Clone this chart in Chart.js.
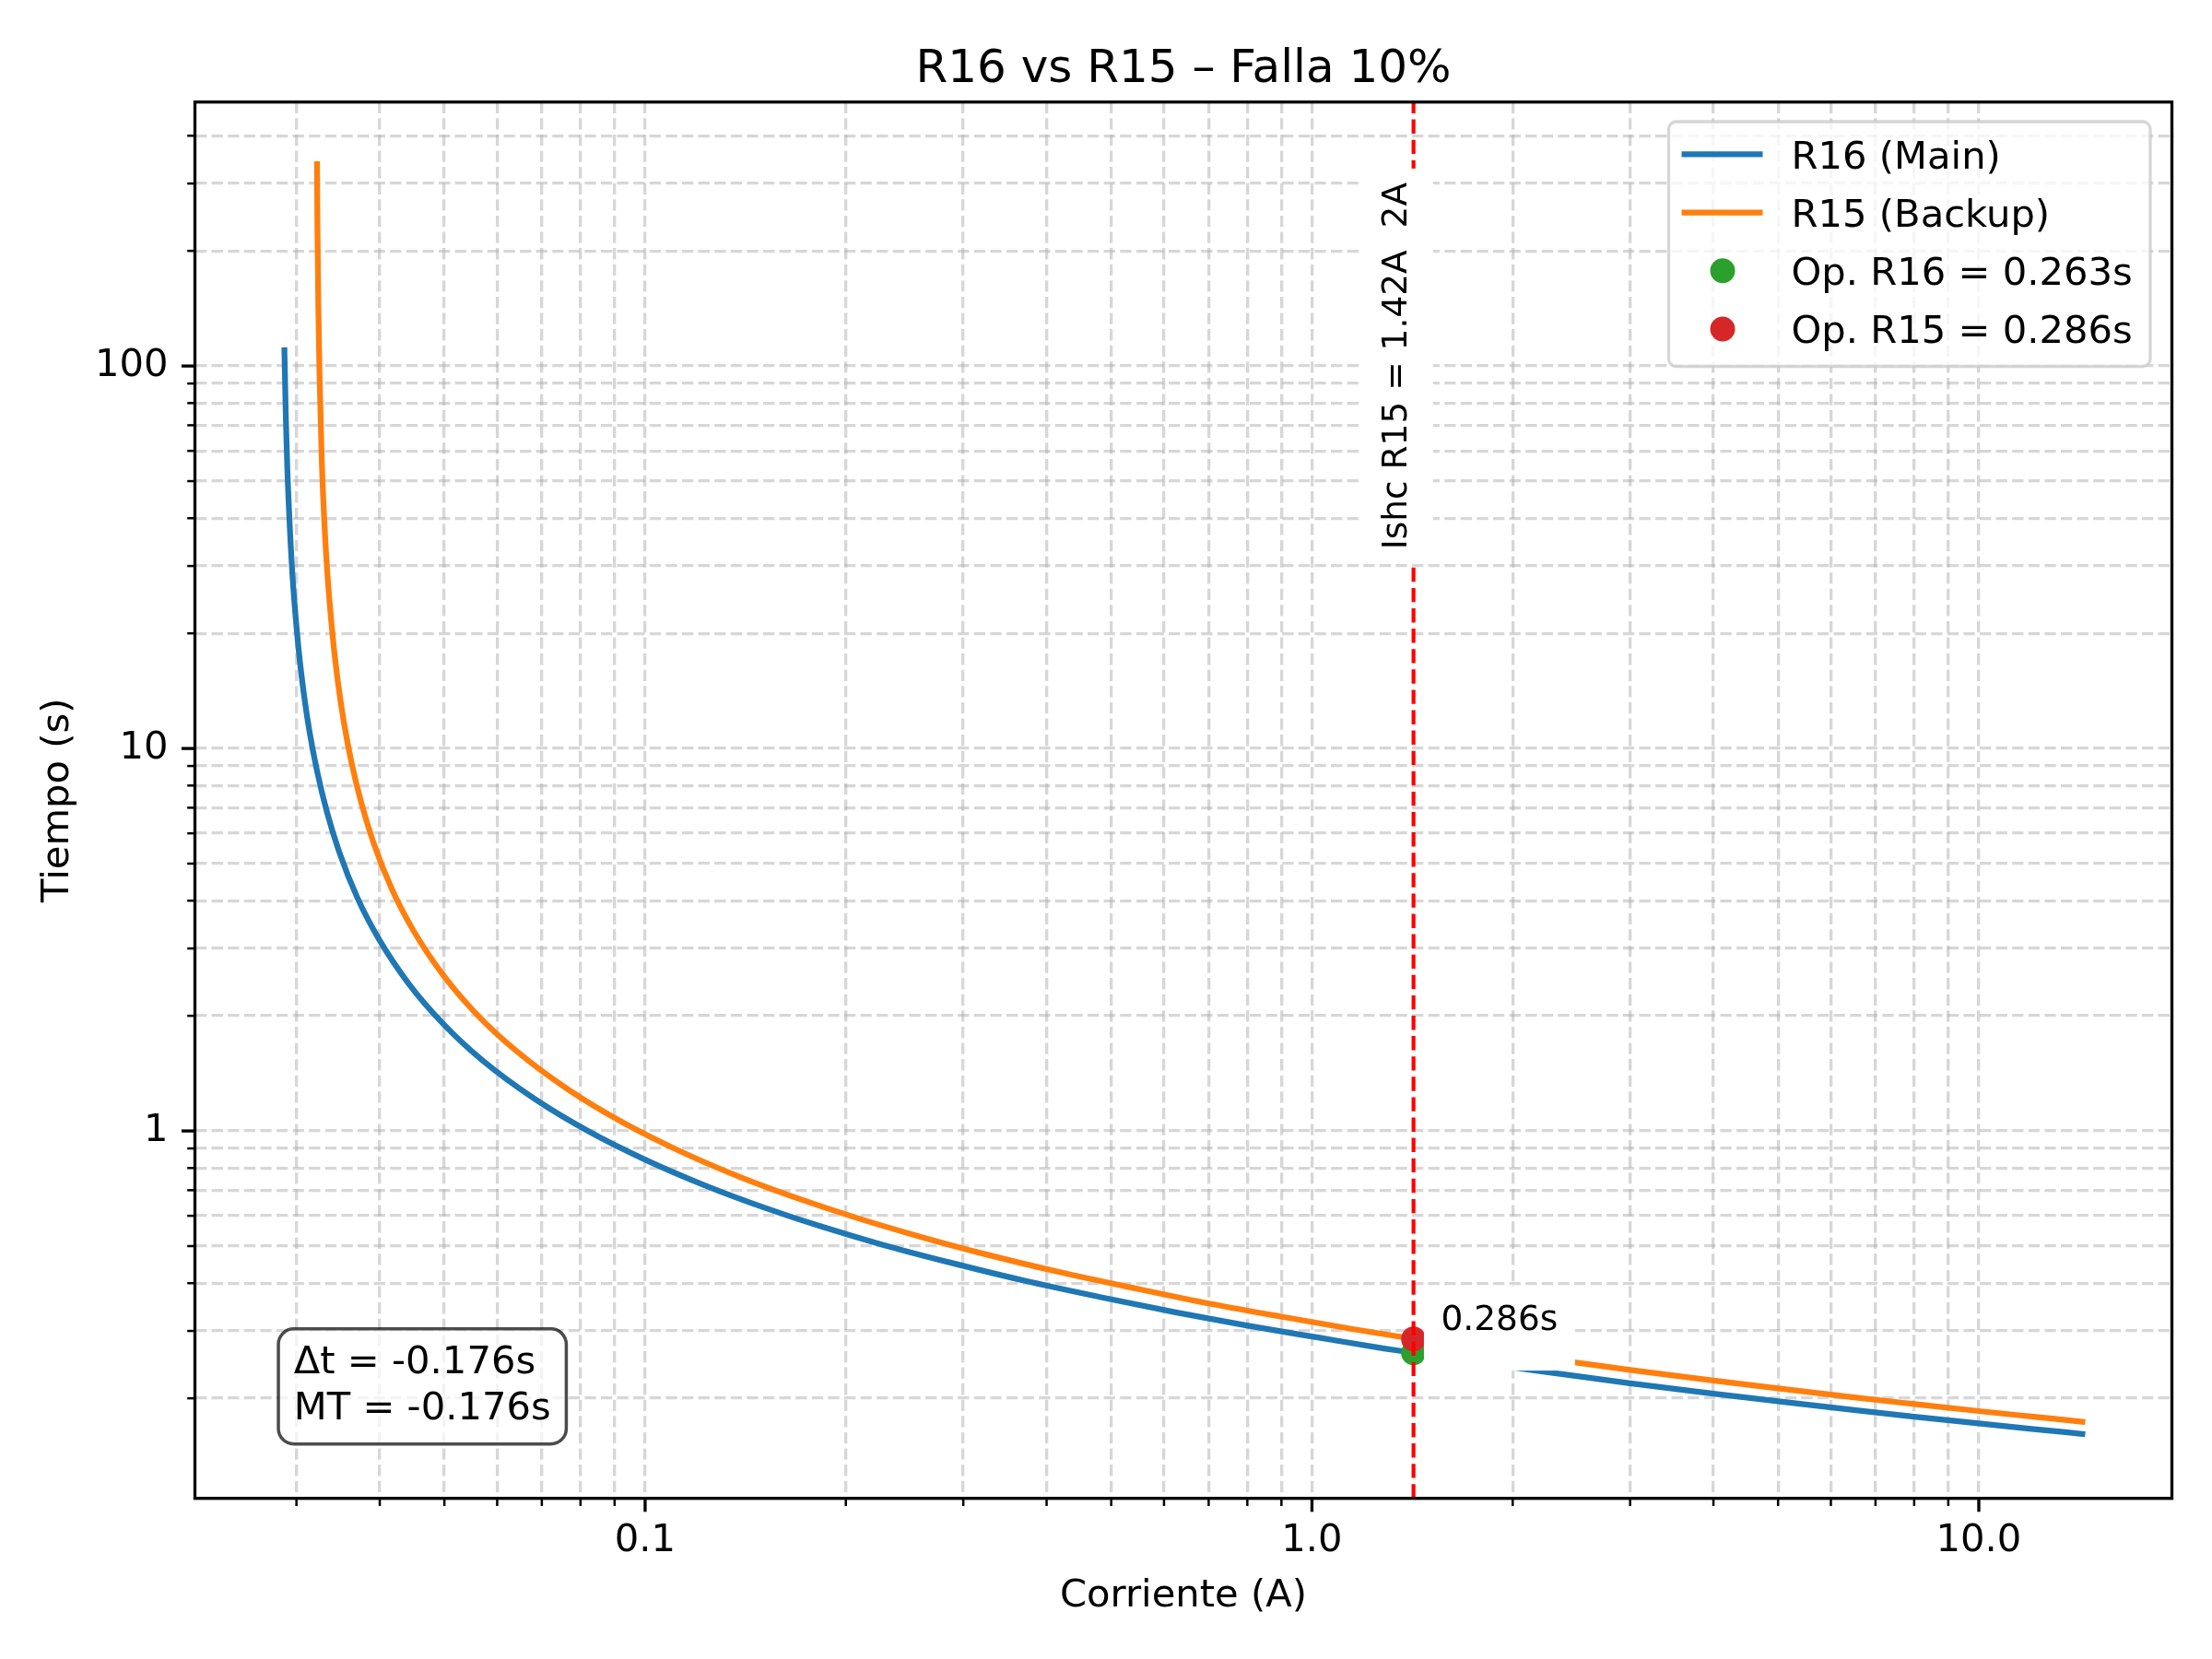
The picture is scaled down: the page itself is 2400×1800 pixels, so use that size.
<!DOCTYPE html>
<html>
<head>
<meta charset="utf-8">
<script src="https://cdn.jsdelivr.net/npm/chart.js@4.4.1/dist/chart.umd.min.js"></script>
<style>
  html, body { margin: 0; padding: 0; background: #fff; }
  canvas { display: block; }
</style>
</head>
<body>
<canvas id="curvaChart" width="2400" height="1800"></canvas>
<script>
// --- valores ---
const r16CurrentA = [0.02878, 0.02893, 0.02907, 0.02936, 0.02964, 0.03021, 0.03078, 0.03135, 0.03221, 0.03335, 0.03477, 0.03705, 0.0399, 0.04418, 0.04988, 0.057, 0.0684, 0.08265, 0.09975, 0.1226, 0.1511, 0.1853, 0.228, 0.285, 0.3705, 0.4845, 0.627, 0.798, 1.026, 1.283, 1.42];
const r16TimeA = [110, 71.8, 54.0, 36.2, 27.2, 18.33, 13.88, 11.20, 8.74, 6.80, 5.37, 4.06, 3.17, 2.43, 1.90, 1.53, 1.21, 0.993, 0.843, 0.722, 0.630, 0.560, 0.503, 0.454, 0.406, 0.367, 0.335, 0.310, 0.288, 0.270, 0.263];
const r16CurrentB = [2.0, 2.5, 3.0, 4.0, 5.0, 6.5, 8.0, 10.0, 12.0, 14.3];
const r16TimeB = [0.2409, 0.2284, 0.2190, 0.2057, 0.1964, 0.1864, 0.1791, 0.1719, 0.1664, 0.1614];

const r15CurrentA = [0.03221, 0.03226, 0.03236, 0.03249, 0.03274, 0.03306, 0.03338, 0.03403, 0.03467, 0.03531, 0.03627, 0.03756, 0.03916, 0.04173, 0.04494, 0.04976, 0.05618, 0.0642, 0.07704, 0.09309, 0.1124, 0.138, 0.1701, 0.2087, 0.2568, 0.321, 0.4173, 0.5457, 0.7062, 0.8988, 1.156, 1.42];
const r15TimeA = [337, 226, 141.4, 94.5, 56.9, 38.1, 28.7, 19.33, 14.63, 11.81, 9.21, 7.17, 5.66, 4.28, 3.34, 2.56, 2.00, 1.615, 1.276, 1.047, 0.888, 0.761, 0.665, 0.591, 0.531, 0.478, 0.428, 0.387, 0.353, 0.327, 0.303, 0.286];
const r15CurrentB = [2.5, 3.0, 4.0, 5.0, 6.5, 8.0, 10.0, 12.0, 14.3];
const r15TimeB = [0.2477, 0.2373, 0.2225, 0.2122, 0.2011, 0.1932, 0.1852, 0.1792, 0.1737];

const ishcCurrent = 1.42;
const ishcLabelTime = 100;
const opR16Time = 0.263;
const opR15Time = 0.286;
const deltaT = -0.176;
const marginT = -0.176;

const xTickValues = [0.1, 1, 10];
const xTickLabels = ['0.1', '1.0', '10.0'];
const yTickValues = [1, 10, 100];
const yTickLabels = ['1', '10', '100'];
const xLimits = [0.02113, 19.48];
const yLimits = [0.1095, 490];

const titleText = 'R16 vs R15 \u2013 Falla 10%';
const ishcText = 'Ishc R15 = 1.42A  2A';

const BLUE = '#1f77b4', ORANGE = '#ff7f0e', GREEN = '#2ca02c', RED = '#d62728';
const FONT = '"DejaVu Sans"';

function toPoints(xs, ys) {
    return xs.map((v, i) => ({ x: v, y: ys[i] }));
}

// ticks 1..9 x 10^n dentro del rango (como matplotlib)
function logTicks(min, max) {
    const out = [];
    for (let e = Math.floor(Math.log10(min)); e <= Math.ceil(Math.log10(max)); e++) {
        for (let m = 1; m <= 9; m++) {
            const v = m * Math.pow(10, e);
            if (v >= min && v <= max) out.push({ value: v });
        }
    }
    return out;
}

function labelFor(value, vals, labels) {
    const i = vals.findIndex(v => Math.abs(v - value) / v < 1e-6);
    return i >= 0 ? labels[i] : '';
}

function curve(label, xs, ys, color, order) {
    return {
        label: label,
        data: toPoints(xs, ys),
        showLine: true,
        borderColor: color,
        backgroundColor: color,
        borderWidth: 6.25,
        pointRadius: 0,
        borderCapStyle: 'square',
        borderJoinStyle: 'round',
        cubicInterpolationMode: 'monotone',
        order: order
    };
}

const datasets = [
    curve('R16 (Main)', r16CurrentA, r16TimeA, BLUE, 5),
    curve('R16 (Main)', r16CurrentB, r16TimeB, BLUE, 5),
    curve('R15 (Backup)', r15CurrentA, r15TimeA, ORANGE, 4),
    curve('R15 (Backup)', r15CurrentB, r15TimeB, ORANGE, 4),
    {
        label: 'Op. R16 = ' + opR16Time.toFixed(3) + 's',
        data: [{ x: ishcCurrent, y: opR16Time }],
        backgroundColor: GREEN, borderColor: GREEN,
        pointRadius: 13.5, pointBorderWidth: 0, showLine: false, order: 1
    },
    {
        label: 'Op. R15 = ' + opR15Time.toFixed(3) + 's',
        data: [{ x: ishcCurrent, y: opR15Time }],
        backgroundColor: RED, borderColor: RED,
        pointRadius: 13.5, pointBorderWidth: 0, showLine: false, order: 0
    }
];
const legendOrder = [0, 2, 4, 5];

const decor = {
    id: 'decor',
    afterDatasetsDraw(chart) {
        const { ctx, chartArea: a, scales: { x, y } } = chart;
        const lx = x.getPixelForValue(ishcCurrent);

        ctx.save();
        ctx.beginPath();
        ctx.rect(a.left, a.top, a.right - a.left, a.bottom - a.top);
        ctx.clip();

        // linea vertical Ishc
        ctx.strokeStyle = '#ff0000';
        ctx.lineWidth = 4.17;
        ctx.setLineDash([15.4, 6.7]);
        ctx.beginPath();
        ctx.moveTo(lx, a.bottom);
        ctx.lineTo(lx, a.top);
        ctx.stroke();
        ctx.setLineDash([]);

        // texto rotado con caja blanca
        ctx.font = '37.5px ' + FONT;
        const iw = ctx.measureText(ishcText).width;
        const cy = y.getPixelForValue(ishcLabelTime);
        const bx = lx - 7.7;
        ctx.fillStyle = '#fff';
        ctx.fillRect(bx - 48, cy - iw / 2 - 15, 77, iw + 30);
        ctx.save();
        ctx.translate(bx, cy);
        ctx.rotate(-Math.PI / 2);
        ctx.fillStyle = '#000';
        ctx.textAlign = 'center';
        ctx.textBaseline = 'alphabetic';
        ctx.fillText(ishcText, 0, 0);
        ctx.restore();

        // anotacion del tiempo de R15
        const my = y.getPixelForValue(opR15Time);
        const annText = opR15Time.toFixed(3) + 's';
        const tx = lx + 29.8, ty = my - 9.3;
        const tw = ctx.measureText(annText).width;
        ctx.fillStyle = '#fff';
        ctx.fillRect(tx - 18.5, ty - 47.3, tw + 37, 91);
        ctx.fillStyle = '#000';
        ctx.textAlign = 'left';
        ctx.fillText(annText, tx, ty);
        ctx.restore();

        // marco de ejes
        ctx.save();
        ctx.strokeStyle = '#000';
        ctx.lineWidth = 3.33;
        ctx.strokeRect(a.left, a.top, a.right - a.left, a.bottom - a.top);

        // caja de texto abajo a la izquierda
        ctx.font = '41.7px ' + FONT;
        const lines = ['\u0394t = ' + deltaT.toFixed(3) + 's', 'MT = ' + marginT.toFixed(3) + 's'];
        const bxL = a.left + 0.05 * (a.right - a.left);
        const bottomY = a.bottom - 0.05 * (a.bottom - a.top);
        const b2 = bottomY - 9.8, b1 = b2 - 50;
        const lw = Math.max(...lines.map(s => ctx.measureText(s).width));
        ctx.beginPath();
        ctx.roundRect(bxL - 16.7, b1 - 48.4, lw + 33.4, bottomY + 16.7 - (b1 - 48.4), 16.7);
        ctx.fillStyle = 'rgba(255,255,255,0.7)';
        ctx.fill();
        ctx.strokeStyle = 'rgba(0,0,0,0.7)';
        ctx.lineWidth = 3.5;
        ctx.stroke();
        ctx.fillStyle = '#000';
        ctx.textAlign = 'left';
        ctx.textBaseline = 'alphabetic';
        ctx.fillText(lines[0], bxL, b1);
        ctx.fillText(lines[1], bxL, b2);

        // leyenda
        const entries = legendOrder.map(i => chart.data.datasets[i]);
        const maxW = Math.max(...entries.map(d => ctx.measureText(d.label).width));
        const right = a.right - 23.5, top = a.top + 21.3;
        const width = 135.5 + maxW + 16.7, left = right - width;
        ctx.beginPath();
        ctx.roundRect(left, top, width, 265.5, 8);
        ctx.fillStyle = 'rgba(255,255,255,0.8)';
        ctx.fill();
        ctx.strokeStyle = 'rgba(204,204,204,0.8)';
        ctx.lineWidth = 3.33;
        ctx.stroke();
        entries.forEach((d, k) => {
            const ry = top + 35.4 + k * 63.2;
            if (d.showLine) {
                ctx.strokeStyle = d.borderColor;
                ctx.lineWidth = 6.25;
                ctx.beginPath();
                ctx.moveTo(left + 14, ry);
                ctx.lineTo(left + 102, ry);
                ctx.stroke();
            } else {
                ctx.fillStyle = d.backgroundColor;
                ctx.beginPath();
                ctx.arc(left + 58.5, ry, 13.5, 0, Math.PI * 2);
                ctx.fill();
            }
            ctx.fillStyle = '#000';
            ctx.fillText(d.label, left + 133, ry + 15.3);
        });
        ctx.restore();
    },
    afterDraw(chart) {
        const { ctx, chartArea: a, scales: { x, y } } = chart;
        ctx.save();
        ctx.strokeStyle = '#000';
        x.ticks.forEach(t => {
            const px = x.getPixelForValue(t.value);
            const major = labelFor(t.value, xTickValues, xTickLabels) !== '';
            ctx.lineWidth = major ? 3.33 : 2.5;
            ctx.beginPath();
            ctx.moveTo(px, a.bottom);
            ctx.lineTo(px, a.bottom + (major ? 14.6 : 8.3));
            ctx.stroke();
        });
        y.ticks.forEach(t => {
            const py = y.getPixelForValue(t.value);
            const major = labelFor(t.value, yTickValues, yTickLabels) !== '';
            ctx.lineWidth = major ? 3.33 : 2.5;
            ctx.beginPath();
            ctx.moveTo(a.left, py);
            ctx.lineTo(a.left - (major ? 14.6 : 8.3), py);
            ctx.stroke();
        });
        ctx.fillStyle = '#000';
        ctx.font = '50px ' + FONT;
        ctx.textAlign = 'center';
        ctx.textBaseline = 'alphabetic';
        ctx.fillText(titleText, (a.left + a.right) / 2, 89);
        ctx.restore();
    }
};

const gridOpts = { color: 'rgba(176,176,176,0.5)', lineWidth: 3.33, drawTicks: false };
const borderOpts = { display: false, dash: [12.3, 5.3] };

new Chart(document.getElementById('curvaChart').getContext('2d'), {
    type: 'scatter',
    data: { datasets: datasets },
    options: {
        responsive: false,
        maintainAspectRatio: false,
        devicePixelRatio: 1,
        animation: false,
        events: [],
        layout: { padding: { top: 110.7, right: 43.5, bottom: 0, left: 0 } },
        plugins: { legend: { display: false }, tooltip: { enabled: false }, title: { display: false } },
        scales: {
            x: {
                type: 'logarithmic',
                position: 'bottom',
                min: xLimits[0], max: xLimits[1],
                bounds: 'data',
                afterBuildTicks: s => { s.ticks = logTicks(s.min, s.max); },
                afterFit: s => { s.height = 174.3; },
                grid: gridOpts,
                border: borderOpts,
                ticks: {
                    autoSkip: false, maxRotation: 0, minRotation: 0, padding: 21.6,
                    color: '#000', font: { family: 'DejaVu Sans', size: 41.7 },
                    callback: v => labelFor(v, xTickValues, xTickLabels)
                },
                title: {
                    display: true, text: 'Corriente (A)', color: '#000',
                    font: { family: 'DejaVu Sans', size: 41.7 },
                    padding: { top: 0, bottom: 42.5 }
                }
            },
            y: {
                type: 'logarithmic',
                position: 'left',
                min: yLimits[0], max: yLimits[1],
                bounds: 'data',
                afterBuildTicks: s => { s.ticks = logTicks(s.min, s.max); },
                afterFit: s => { s.width = 211.5; },
                grid: gridOpts,
                border: borderOpts,
                ticks: {
                    autoSkip: false, padding: 29,
                    color: '#000', font: { family: 'DejaVu Sans', size: 41.7 },
                    callback: v => labelFor(v, yTickValues, yTickLabels)
                },
                title: {
                    display: true, text: 'Tiempo (s)', color: '#000',
                    font: { family: 'DejaVu Sans', size: 41.7 },
                    padding: { top: 37.9, bottom: 0 }
                }
            }
        }
    },
    plugins: [decor]
});
</script>
</body>
</html>
